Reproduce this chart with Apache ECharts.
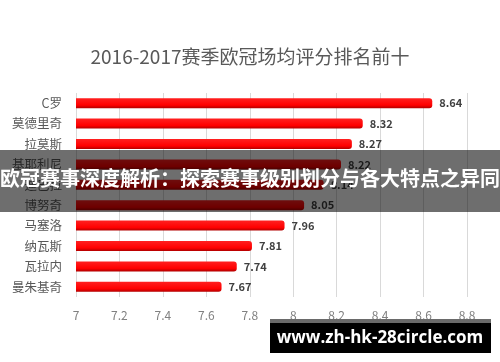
<!DOCTYPE html>
<html>
<head>
<meta charset="utf-8">
<script src="https://cdn.jsdelivr.net/npm/echarts@6/dist/echarts.min.js"></script>
<style>
html,body{margin:0;padding:0;background:#fff;}
#chart{width:500px;height:362px;}
</style>
</head>
<body>
<div id="chart"></div>
<script>
var titleText = '2016-2017赛季欧冠场均评分排名前十';
var players = ['C罗', '莫德里奇', '拉莫斯', '基耶利尼', '迪巴拉', '博努奇', '马塞洛', '纳瓦斯', '瓦拉内', '曼朱基奇'];
var ratings = [8.64, 8.32, 8.27, 8.22, 8.14, 8.05, 7.96, 7.81, 7.74, 7.67];
var xTicks = [7, 7.2, 7.4, 7.6, 7.8, 8, 8.2, 8.4, 8.6, 8.8];
var bannerText = '欧冠赛事深度解析：探索赛事级别划分与各大特点之异同';
var watermarkText = 'www.zh-hk-28circle.com';

var FONT = '"Noto Sans CJK SC", "Open Sans", sans-serif';
var chart = echarts.init(document.getElementById('chart'), null, {renderer: 'canvas'});
chart.setOption({
  animation: false,
  backgroundColor: '#ffffff',
  title: {
    text: titleText,
    left: 'center',
    top: 42,
    textStyle: {fontFamily: FONT, fontSize: 19, fontWeight: 'normal', color: '#595959'}
  },
  grid: {left: 76, right: 33, top: 93, bottom: 65},
  xAxis: {
    type: 'value',
    min: xTicks[0],
    max: xTicks[xTicks.length - 1],
    interval: 0.2,
    axisLine: {show: false},
    axisTick: {show: false},
    splitLine: {show: true, lineStyle: {color: '#d9d9d9', width: 1}},
    axisLabel: {
      margin: 12,
      color: '#808080',
      fontFamily: FONT,
      fontSize: 12,
      formatter: function (v) { return String(Math.round(v * 10) / 10); }
    }
  },
  yAxis: {
    type: 'category',
    data: players,
    inverse: true,
    axisLine: {show: false},
    axisTick: {show: false},
    axisLabel: {margin: 14, color: '#595959', fontFamily: FONT, fontSize: 12.5}
  },
  series: [{
    type: 'bar',
    data: ratings,
    barWidth: 10,
    itemStyle: {
      borderRadius: [0, 3, 3, 0],
      color: new echarts.graphic.LinearGradient(0, 0, 0, 1, [
        {offset: 0, color: '#ff2020'},
        {offset: 0.7, color: '#ff0000'},
        {offset: 1, color: '#b00000'}
      ])
    },
    label: {
      show: true,
      position: 'right',
      distance: 7,
      color: '#404040',
      fontFamily: FONT,
      fontWeight: 'bold',
      fontSize: 11,
      formatter: function (p) { return p.value.toFixed(2); }
    }
  }],
  graphic: [
    {
      type: 'rect', left: 0, top: 150, z: 100,
      shape: {width: 500, height: 62},
      style: {fill: 'rgba(0,0,0,0.57)'}
    },
    {
      type: 'text', left: 'center', top: 168, z: 101,
      style: {text: bannerText, fill: '#ffffff', font: 'bold 20px ' + FONT}
    },
    {
      type: 'rect', left: 270, top: 319, z: 100,
      shape: {width: 221, height: 4},
      style: {fill: '#6a6a6a'}
    },
    {
      type: 'rect', left: 270, top: 323, z: 100,
      shape: {width: 221, height: 30},
      style: {fill: '#000000'}
    },
    {
      type: 'text', x: 380, y: 338, z: 101,
      style: {text: watermarkText, fill: '#ffffff', textAlign: 'center', textVerticalAlign: 'middle',
              font: 'bold 17px "Open Sans", "DejaVu Sans", sans-serif'}
    }
  ]
});
</script>
</body>
</html>
